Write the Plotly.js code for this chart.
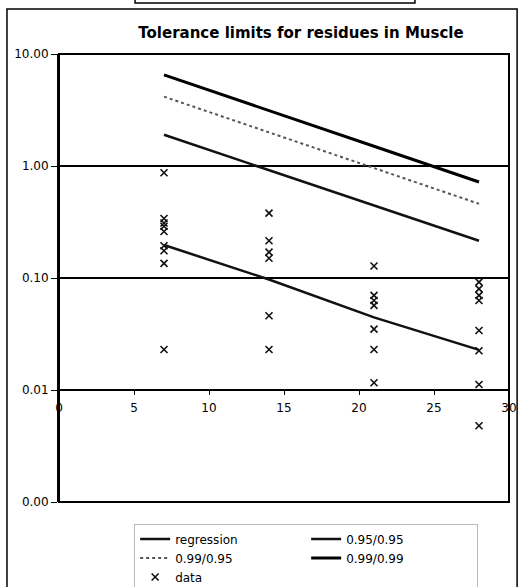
<!DOCTYPE html>
<html>
<head>
<meta charset="utf-8">
<script src="https://cdn.plot.ly/plotly-3.0.1.min.js"></script>
<style>html,body{margin:0;padding:0;background:#fff;}#chart{width:518px;height:587px;}</style>
</head>
<body>
<div id="chart"></div>
<script>
var days = [7, 14, 21, 28];
var regression = [0.197, 0.097, 0.0445, 0.0228];
var tl9595 = [1.9, 0.92, 0.445, 0.215];
var tl9995 = [4.16, 2.0, 0.97, 0.46];
var tl9999 = [6.5, 3.1, 1.5, 0.72];
var dataX = [7,7,7,7,7,7,7,7,7, 14,14,14,14,14,14, 21,21,21,21,21,21,21, 28,28,28,28,28,28,28,28];
var dataY = [0.87,0.34,0.31,0.29,0.26,0.194,0.175,0.135,0.023,
             0.38,0.215,0.17,0.15,0.046,0.023,
             0.128,0.07,0.063,0.057,0.035,0.023,0.0116,
             0.092,0.08,0.07,0.063,0.034,0.0224,0.0112,0.0048];
var yTickVals = [0.001, 0.01, 0.1, 1, 10];
var yTickText = ['0.00', '0.01', '0.10', '1.00', '10.00'];
var xTickVals = [0, 5, 10, 15, 20, 25, 30];

var F = 'DejaVu Sans, Arial, sans-serif';
var traces = [
  {x: days, y: regression, name: 'regression', mode: 'lines', line: {color: '#111', width: 2.5}},
  {x: days, y: tl9595, name: '0.95/0.95', mode: 'lines', line: {color: '#111', width: 2.5}},
  {x: days, y: tl9995, name: '0.99/0.95', mode: 'lines', line: {color: '#555', width: 2, dash: 'dot'}},
  {x: days, y: tl9999, name: '0.99/0.99', mode: 'lines', line: {color: '#000', width: 3}},
  {x: dataX, y: dataY, name: 'data', mode: 'markers',
   marker: {symbol: 'x-thin-open', size: 7, color: '#111', line: {color: '#111', width: 1.6}}}
];
var layout = {
  width: 518, height: 587,
  margin: {l: 59, r: 9, t: 54, b: 85, autoexpand: false},
  paper_bgcolor: '#fff', plot_bgcolor: '#fff',
  font: {family: F, color: '#000', size: 12},
  title: {text: '<b>Tolerance limits for residues in Muscle</b>', font: {family: F, size: 15, color: '#000'},
          x: 0.581, xref: 'container', xanchor: 'center', y: 0.945, yref: 'container', yanchor: 'middle'},
  xaxis: {range: [0, 30], tickvals: xTickVals, ticktext: xTickVals.map(String),
          anchor: 'free', position: 0.25, showline: true, linecolor: '#000', linewidth: 2,
          ticks: 'outside', ticklen: 4, tickcolor: '#000', showgrid: false, zeroline: false,
          ticklabelstandoff: 3,
          tickfont: {family: F, size: 12, color: '#000'}},
  yaxis: {type: 'log', range: [-3, 1], tickvals: yTickVals, ticktext: yTickText,
          showline: true, linecolor: '#000', linewidth: 2, ticks: 'outside', ticklen: 6, tickcolor: '#000',
          showgrid: true, gridcolor: '#000', gridwidth: 1.5, zeroline: false,
          tickfont: {family: F, size: 12, color: '#000'}},
  showlegend: true,
  legend: {orientation: 'h', x: 0.167, xanchor: 'left', y: -0.048, yanchor: 'top',
           entrywidth: 126, itemwidth: 30, font: {family: F, size: 12, color: '#000'},
           bordercolor: '#bbb', borderwidth: 1, bgcolor: 'rgba(0,0,0,0)', tracegroupgap: 0},
  shapes: [
    {type: 'rect', xref: 'paper', yref: 'paper', x0: 0, x1: 1, y0: 0, y1: 1, line: {color: '#000', width: 2}},
    {type: 'rect', xref: 'paper', yref: 'paper', x0: -0.1156, x1: 1.018, y0: -0.3, y1: 1.1004, line: {color: '#000', width: 1.5}},
    {type: 'rect', xref: 'paper', yref: 'paper', x0: 0.169, x1: 0.791, y0: 1.1138, y1: 1.25, line: {color: '#000', width: 1.5}}
  ]
};
Plotly.newPlot('chart', traces, layout, {displayModeBar: false, staticPlot: true});
</script>
</body>
</html>
